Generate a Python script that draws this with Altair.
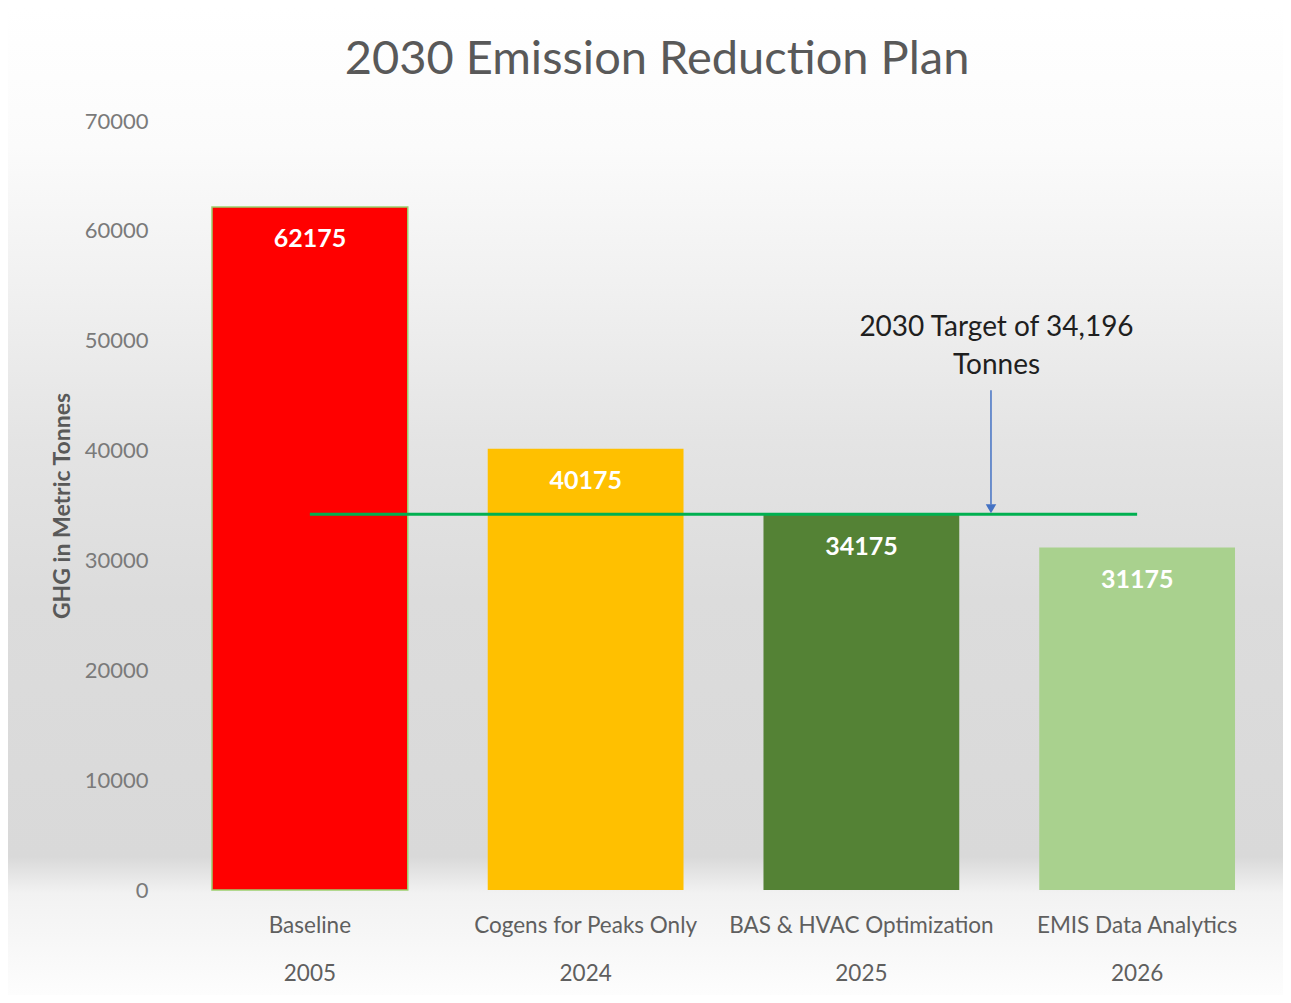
import altair as alt
import pandas as pd

# ---- data ----
names = ["Baseline", "Cogens for Peaks Only", "BAS & HVAC Optimization", "EMIS Data Analytics"]
years = ["2005", "2024", "2025", "2026"]
values = [62175, 40175, 34175, 31175]
bar_colors = ["#FF0000", "#FFC000", "#548235", "#A9D18E"]
y_ticks = [0, 10000, 20000, 30000, 40000, 50000, 60000, 70000]
target_value = 34196
title_text = "2030 Emission Reduction Plan"
target_text = "2030 Target of 34,196\nTonnes"
# annotation anchor (category-index space, centers at i+0.5) and value space
arrow_x = 2.97
arrow_top = 45500
arrow_head = 34700
text_x = 2.99
text_y = 51200

FONT = "Lato"
W, H = 1103, 769
PAD = {"left": 164, "top": 113, "right": 8, "bottom": 105}

cats = [f"{n}|{y}" for n, y in zip(names, years)]
df = pd.DataFrame({"cat": cats, "name": names, "value": values})
df_target = pd.DataFrame({"cat": cats, "target": [target_value] * len(cats)})
df_arrow = pd.DataFrame({"x": [arrow_x], "y": [arrow_top], "y2": [arrow_head + 400]})
df_head = pd.DataFrame({"x": [arrow_x], "y": [arrow_head]})
df_text = pd.DataFrame({"x": [text_x], "y": [text_y], "t": [target_text]})
df_title = pd.DataFrame({"t": [title_text]})

x_enc = alt.X(
    "cat:N",
    sort=cats,
    scale=alt.Scale(paddingInner=0.29, paddingOuter=0.145),
    axis=alt.Axis(
        title=None,
        labelAngle=0,
        labelExpr="split(datum.value, '|')",
        labelFont=FONT,
        labelFontSize=22.5,
        labelColor="#5f5f5f",
        labelLineHeight=48,
        labelBaseline="top",
        labelPadding=24,
        labelLimit=0,
        ticks=False,
        domain=False,
        zindex=1,
    ),
)
y_scale = alt.Scale(domain=[0, 70000])
y_enc = alt.Y(
    "value:Q",
    scale=y_scale,
    axis=alt.Axis(
        title="GHG in Metric Tonnes",
        titleFont=FONT,
        titleFontSize=23,
        titleFontWeight="bold",
        titleColor="#595959",
        titlePadding=10,
        values=y_ticks,
        format="d",
        labelFont=FONT,
        labelFontSize=22,
        labelColor="#7a7a7a",
        labelPadding=24,
        ticks=False,
        domain=False,
        grid=False,
        zindex=1,
    ),
)

# decorative gradient backdrop
bg = alt.Chart(pd.DataFrame({"k": [0]})).mark_rect(
    fill=alt.LinearGradient(
        gradient="linear",
        x1=0, x2=0, y1=0, y2=1,
        stops=[
            alt.GradientStop(color="#ffffff", offset=0),
            alt.GradientStop(color="#fbfbfb", offset=0.14),
            alt.GradientStop(color="#f0f0f0", offset=0.29),
            alt.GradientStop(color="#e4e4e4", offset=0.44),
            alt.GradientStop(color="#dcdcdc", offset=0.6),
            alt.GradientStop(color="#d9d9d9", offset=0.86),
            alt.GradientStop(color="#f2f2f2", offset=0.897),
            alt.GradientStop(color="#fdfdfd", offset=1),
        ],
    )
).encode(
    x=alt.value(-PAD["left"]),
    x2=alt.value(W + PAD["right"]),
    y=alt.value(-PAD["top"]),
    y2=alt.value(H + PAD["bottom"]),
)

title = alt.Chart(df_title).mark_text(
    font=FONT, fontSize=47, color="#595959", align="center", baseline="middle"
).encode(x=alt.value(485), y=alt.value(-61), text="t:N")

bars = alt.Chart(df).mark_bar(strokeWidth=1.5).encode(
    x=x_enc,
    y=y_enc,
    color=alt.Color("name:N", sort=names, scale=alt.Scale(domain=names, range=bar_colors), legend=None),
    stroke=alt.condition(alt.datum.name == "Baseline", alt.value("#9ccf6e"), alt.value("transparent")),
)

labels = alt.Chart(df).mark_text(
    font=FONT, fontSize=25, fontWeight="bold", color="white", baseline="middle", dy=32
).encode(x=alt.X("cat:N", sort=cats), y=alt.Y("value:Q", scale=y_scale), text="value:Q")

target_line = alt.Chart(df_target).mark_line(color="#00B050", strokeWidth=3).encode(
    x=alt.X("cat:N", sort=cats), y=alt.Y("target:Q", scale=y_scale)
)

ax = alt.X("x:Q", scale=alt.Scale(domain=[0, 4]), axis=None)
arrow = alt.Chart(df_arrow).mark_rule(color="#4472C4", strokeWidth=1.5).encode(
    x=ax, y=alt.Y("y:Q", scale=y_scale), y2="y2:Q"
)
head = alt.Chart(df_head).mark_point(
    shape="triangle-down", filled=True, color="#4472C4", size=110, opacity=1
).encode(x=ax, y=alt.Y("y:Q", scale=y_scale))
note = alt.Chart(df_text).mark_text(
    font=FONT, fontSize=28, color="#1f1f1f", align="center", baseline="middle",
    lineBreak="\n", lineHeight=38,
).encode(x=ax, y=alt.Y("y:Q", scale=y_scale), text="t:N")

main = alt.layer(bars, labels, target_line)
annot = alt.layer(arrow, head, note)

chart = (
    alt.layer(bg, title, main, annot)
    .resolve_scale(x="independent")
    .properties(
        width=W,
        height=H,
        padding=PAD,
        autosize=alt.AutoSizeParams(type="none"),
        background="white",
    )
    .configure_view(strokeWidth=0)
)

chart.save("out.html", embed_options={"renderer": "svg", "actions": False})
